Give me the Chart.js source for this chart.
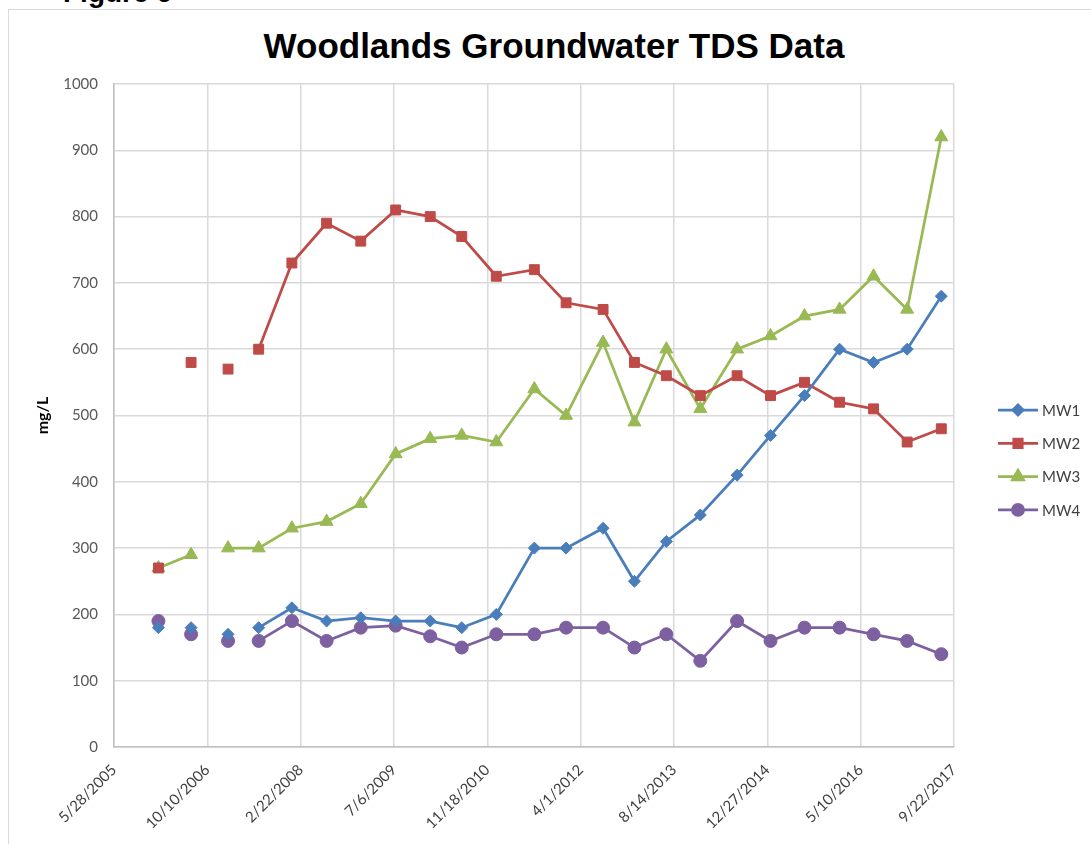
<!DOCTYPE html>
<html>
<head>
<meta charset="utf-8">
<script src="https://cdn.jsdelivr.net/npm/chart.js@4.4.1/dist/chart.umd.min.js"></script>
<style>
  html, body { margin: 0; padding: 0; background: #fff; overflow: hidden; }
  #wrap { position: relative; width: 1091px; height: 844px; }
  #frame { position: absolute; left: 8px; top: 9px; width: 1200px; height: 1000px;
           border: 1.5px solid #d9d9d9; box-sizing: border-box; }
  #fig { position: absolute; left: 63px; top: -21px; font: bold 28px "Liberation Sans", Arial, sans-serif;
         color: #000; line-height: 1; }
  #title { position: absolute; left: 0; top: 28px; width: 1108px; text-align: center;
           font: bold 35px "Liberation Sans", Arial, sans-serif; line-height: 35px; color: #000; }
  #chart { position: absolute; left: 0; top: 0; }
</style>
</head>
<body>
<div id="wrap">
  <div id="frame"></div>
  <div id="fig">Figure 6</div>
  <div id="title">Woodlands Groundwater TDS Data</div>
  <canvas id="chart" width="1091" height="844"></canvas>
</div>
<script>
// sampling dates
const sampleDates = ['2006-01-21','2006-07-15','2007-01-29','2007-07-12','2008-01-06','2008-07-10',
  '2009-01-09','2009-07-15','2010-01-16','2010-07-04','2011-01-05','2011-07-28',
  '2012-01-14','2012-07-30','2013-01-14','2013-07-04','2014-01-02','2014-07-18',
  '2015-01-13','2015-07-14','2016-01-18','2016-07-18','2017-01-14','2017-07-16'];

// TDS, mg/L
const mw1 = [180,180,170,180,210,190,195,190,190,180,200,300,300,330,250,310,350,410,470,530,600,580,600,680];
const mw2 = [270,580,570,600,730,790,763,810,800,770,710,720,670,660,580,560,530,560,530,550,520,510,460,480];
const mw3 = [270,290,300,300,330,340,367,442,465,470,460,540,500,610,490,600,510,600,620,650,660,710,660,920];
const mw4 = [190,170,160,160,190,160,180,183,167,150,170,170,180,180,150,170,130,190,160,180,180,170,160,140];

// segments (starting at point index) that have no line in the original sheet
const mw1Gaps = [0,1,2];
const mw2Gaps = [0,1,2];
const mw3Gaps = [1];
const mw4Gaps = [0,1,2];

// axis range / ticks (excel date serials 38500..43000 step 500)
const axisStart = '2005-05-28';
const axisEnd = '2017-09-22';
const axisStep = 500;
const yTicks = [0,100,200,300,400,500,600,700,800,900,1000];

function toSerial(s) {
  const p = s.split('-').map(Number);
  return Date.UTC(p[0], p[1]-1, p[2]) / 86400000 + 25569;
}
function serialLabel(v) {
  const d = new Date((v - 25569) * 86400000);
  return (d.getUTCMonth()+1) + '/' + d.getUTCDate() + '/' + d.getUTCFullYear();
}

const xs = sampleDates.map(toSerial);
function pts(vals) { return vals.map((v, i) => ({x: xs[i], y: v})); }
function gapSeg(gaps) {
  return { borderColor: ctx => gaps.includes(ctx.p0DataIndex) ? 'rgba(0,0,0,0)' : undefined };
}

const tickFont = {family: 'Lato, "Liberation Sans", sans-serif', size: 15};

const series = [
  {label: 'MW1', data: pts(mw1), color: '#4a7ebb', style: 'rectRot', r: 6, gaps: mw1Gaps},
  {label: 'MW2', data: pts(mw2), color: '#be4b48', style: 'rect', r: 7, gaps: mw2Gaps},
  {label: 'MW3', data: pts(mw3), color: '#98b954', style: 'triangle', r: 7.5, gaps: mw3Gaps},
  {label: 'MW4', data: pts(mw4), color: '#7d60a0', style: 'circle', r: 6.5, gaps: mw4Gaps}
];

const legendPlugin = {
  id: 'lineLegend',
  afterDraw(chart) {
    const ctx = chart.ctx;
    const x0 = chart.chartArea.right + 44;
    ctx.save();
    chart.data.datasets.forEach((ds, i) => {
      const y = 410 + i * 33.3;
      ctx.strokeStyle = ds.borderColor;
      ctx.lineWidth = 2.75;
      ctx.beginPath();
      ctx.moveTo(x0, y);
      ctx.lineTo(x0 + 40, y);
      ctx.stroke();
      ctx.fillStyle = ds.borderColor;
      ctx.strokeStyle = ds.borderColor;
      Chart.helpers.drawPoint(ctx, {pointStyle: ds.pointStyle, radius: ds.pointRadius * 0.85, borderWidth: 1, rotation: 0}, x0 + 20, y);
      ctx.fillStyle = '#404040';
      ctx.font = '15px Lato, "Liberation Sans", sans-serif';
      ctx.textBaseline = 'middle';
      ctx.textAlign = 'left';
      ctx.fillText(ds.label, x0 + 44, y + 1);
    });
    ctx.restore();
  }
};

new Chart(document.getElementById('chart').getContext('2d'), {
  type: 'line',
  data: {
    datasets: series.map(s => ({
      label: s.label,
      data: s.data,
      borderColor: s.color,
      backgroundColor: s.color,
      borderWidth: 2.75,
      pointStyle: s.style,
      pointRadius: s.r,
      pointBorderWidth: 1,
      pointBackgroundColor: s.color,
      pointBorderColor: s.color,
      tension: 0,
      segment: gapSeg(s.gaps)
    }))
  },
  options: {
    responsive: false,
    animation: false,
    layout: {padding: {left: 20, right: 137, top: 84, bottom: 0}},
    plugins: {
      legend: {display: false},
      tooltip: {enabled: false},
      title: {display: false}
    },
    scales: {
      x: {
        type: 'linear',
        min: toSerial(axisStart),
        max: toSerial(axisEnd),
        ticks: {
          stepSize: axisStep,
          callback: v => serialLabel(v),
          minRotation: 45, maxRotation: 45,
          autoSkip: false,
          font: tickFont, color: '#404040', padding: 14
        },
        grid: {color: '#d9d9d9', lineWidth: 1.5, drawTicks: false},
        border: {color: '#bfbfbf', width: 1.5},
        afterFit: s => { s.height = 97; }
      },
      y: {
        min: 0, max: 1000,
        afterBuildTicks: s => { s.ticks = yTicks.map(v => ({value: v})); },
        ticks: {font: tickFont, color: '#595959', padding: 16, callback: v => String(v)},
        grid: {color: '#d9d9d9', lineWidth: 1.5, drawTicks: false},
        border: {color: '#bfbfbf', width: 1.5},
        title: {display: true, text: 'mg/L', color: '#000',
                font: {family: 'Lato, "Liberation Sans", sans-serif', size: 16, weight: 'bold'},
                padding: {top: 13, bottom: 0}},
        afterFit: s => { s.width = 94; }
      }
    }
  },
  plugins: [legendPlugin]
});
</script>
</body>
</html>
